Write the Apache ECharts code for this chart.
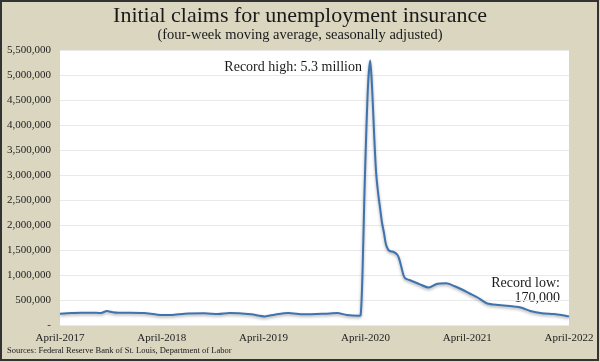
<!DOCTYPE html>
<html>
<head>
<meta charset="utf-8">
<script src="https://cdn.jsdelivr.net/npm/echarts@6/dist/echarts.min.js"></script>
<style>
html,body{margin:0;padding:0;background:#dbd6c0;}
#chart{width:600px;height:362px;}
</style>
</head>
<body>
<div id="chart"></div>
<script>
// Weekly-ending dates sampled along the line
const dates = [
  '2017-04-01','2017-05-13','2017-06-17','2017-07-22','2017-08-26','2017-09-16','2017-10-07','2017-10-28',
  '2017-12-09','2018-01-27','2018-03-17','2018-05-05','2018-06-23','2018-09-01','2018-10-20','2018-12-01',
  '2019-02-16','2019-04-06','2019-05-11','2019-06-29','2019-08-24','2019-11-09','2019-12-21','2020-01-25',
  '2020-03-07','2020-03-14','2020-03-21','2020-03-28','2020-04-04','2020-04-11','2020-04-18','2020-04-25',
  '2020-05-02','2020-05-09','2020-05-16','2020-05-23','2020-05-30','2020-06-06','2020-06-13','2020-06-20',
  '2020-06-27','2020-07-11','2020-07-25','2020-08-01','2020-08-08','2020-08-15','2020-08-22','2020-09-05',
  '2020-10-10','2020-11-14','2020-12-12','2020-12-26','2021-01-16','2021-02-13','2021-03-13','2021-04-10',
  '2021-05-08','2021-06-12','2021-07-24','2021-08-21','2021-09-25','2021-10-16','2021-11-13','2021-12-25',
  '2022-02-05','2022-03-05','2022-04-01'
];
// Four-week moving average of initial claims
const claims = [
  226000,240000,245000,247000,240000,280000,255000,245000,
  247000,240000,207000,200000,227000,233000,220000,240000,
  213000,172000,207000,240000,213000,227000,240000,200000,
  187000,190000,1000000,2600000,3900000,4900000,5290000,4700000,
  3800000,3050000,2650000,2350000,2050000,1850000,1620000,1520000,
  1480000,1460000,1400000,1300000,1150000,1000000,930000,900000,
  820000,750000,820000,830000,835000,780000,710000,630000,
  550000,430000,400000,385000,365000,340000,280000,235000,
  220000,200000,170000
];
const yTicks = [0,500000,1000000,1500000,2000000,2500000,3000000,3500000,4000000,4500000,5000000,5500000];
const xTickDates = ['2017-04-01','2018-04-01','2019-04-01','2020-04-01','2021-04-01','2022-04-01'];
const xTickLabels = ['April-2017','April-2018','April-2019','April-2020','April-2021','April-2022'];

const titleText = 'Initial claims for unemployment insurance';
const subtitleText = '(four-week moving average, seasonally adjusted)';
const sourceText = 'Sources: Federal Reserve Bank of St. Louis, Department of Labor';

const ts = d => Date.UTC(+d.slice(0,4), +d.slice(5,7) - 1, +d.slice(8,10));
const xTickTs = xTickDates.map(ts);

const serif = '"Liberation Serif", "DejaVu Serif", serif';
const chart = echarts.init(document.getElementById('chart'), null, {renderer: 'canvas'});
const seriesData = dates.map((d, i) => [ts(d), claims[i]]);

chart.setOption({
  animation: false,
  backgroundColor: '#dbd6c0',
  textStyle: {fontFamily: serif},
  grid: {left: 60, right: 31, top: 50, bottom: 37, show: true, backgroundColor: '#ffffff', borderWidth: 0},
  xAxis: {
    type: 'value',
    min: xTickTs[0],
    max: xTickTs[xTickTs.length - 1],
    axisLine: {show: false},
    axisTick: {show: false},
    splitLine: {show: false},
    axisLabel: {
      customValues: xTickTs,
      formatter: v => xTickLabels[xTickTs.indexOf(v)] || '',
      fontFamily: serif, fontSize: 11, color: '#1e1e1e', margin: 8,
      showMinLabel: true, showMaxLabel: true
    }
  },
  yAxis: {
    type: 'value',
    min: yTicks[0],
    max: yTicks[yTicks.length - 1],
    interval: 500000,
    axisLine: {show: false},
    axisTick: {show: false},
    splitLine: {show: true, lineStyle: {color: '#e9e9e9', width: 1}},
    axisLabel: {
      formatter: v => v === 0 ? '-' : v.toLocaleString('en-US'),
      fontFamily: serif, fontSize: 11, color: '#1e1e1e', margin: 9
    }
  },
  series: [{
    type: 'line',
    data: seriesData,
    showSymbol: false,
    smooth: 0.25,
    lineStyle: {color: '#3f73ad', width: 2, shadowColor: 'rgba(0,0,0,0.35)', shadowBlur: 3, shadowOffsetY: 1.5}
  }],
  graphic: [
    {type: 'rect', shape: {x: 1, y: 1, width: 597, height: 359}, style: {fill: 'none', stroke: '#333', lineWidth: 2}, silent: true},
    {type: 'text', left: 'center', top: 5, style: {text: titleText, font: '22px ' + serif, fill: '#1a1a1a'}},
    {type: 'text', left: 'center', top: 28, style: {text: subtitleText, font: '14.5px ' + serif, fill: '#1a1a1a'}},
    {type: 'text', x: 362, y: 67, style: {text: 'Record high: 5.3 million', font: '14px ' + serif, fill: '#1a1a1a', align: 'right', verticalAlign: 'middle'}},
    {type: 'text', x: 560, y: 283, style: {text: 'Record low:', font: '14px ' + serif, fill: '#1a1a1a', align: 'right', verticalAlign: 'middle'}},
    {type: 'text', x: 560, y: 298, style: {text: '170,000', font: '14px ' + serif, fill: '#1a1a1a', align: 'right', verticalAlign: 'middle'}},
    {type: 'text', x: 7, y: 351, style: {text: sourceText, font: '8.5px ' + serif, fill: '#1a1a1a', verticalAlign: 'middle'}}
  ]
});
</script>
</body>
</html>
